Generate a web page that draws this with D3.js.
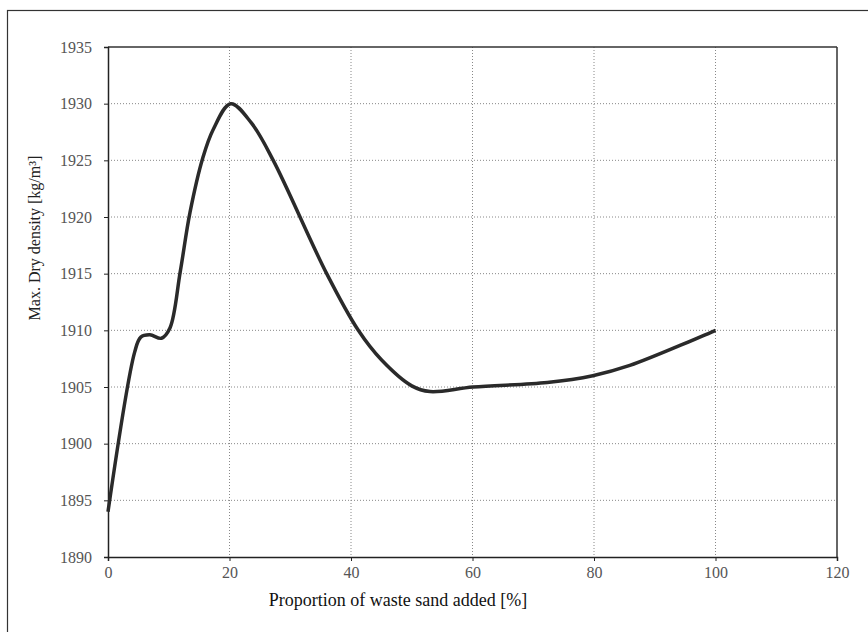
<!DOCTYPE html>
<html>
<head>
<meta charset="utf-8">
<script src="https://cdn.jsdelivr.net/npm/d3@7"></script>
<style>
  body { margin: 0; background: #fff; }
  svg { display: block; }
  text { font-family: "Liberation Serif", "DejaVu Serif", serif; }
</style>
</head>
<body>
<svg id="Canvas" width="868" height="632"></svg>
<script>
// values
var proportion = [0, 4.4, 5.4, 6.9, 8.8, 10.2, 11.9, 13.5, 15.6, 17.3, 20.2, 23.6, 27.2, 36.0, 41.2, 45.0, 50.0, 53.0, 60.1, 72.3, 79.8, 85.9, 100];
var density = [1894, 1908.1, 1909.4, 1909.6, 1909.3, 1910.2, 1915.2, 1920.4, 1925.2, 1927.7, 1930, 1928.3, 1925, 1915, 1910, 1907.4, 1905.1, 1904.6, 1905.0, 1905.4, 1906.0, 1906.9, 1910];
var xTicks = [0, 20, 40, 60, 80, 100, 120];
var yTicks = [1890, 1895, 1900, 1905, 1910, 1915, 1920, 1925, 1930, 1935];

var svg = d3.select("#Canvas");

var plotLeft = 108, plotRight = 837, plotTop = 47, plotBottom = 557;

var x = d3.scaleLinear().domain([0, 120]).range([plotLeft, plotRight]);
var y = d3.scaleLinear().domain([1890, 1935]).range([plotBottom, plotTop]);

// outer frame (runs off the page on the right and bottom)
svg.append("rect")
  .attr("x", 7.5).attr("y", 10.5)
  .attr("width", 880).attr("height", 650)
  .attr("fill", "none")
  .attr("stroke", "#333")
  .attr("stroke-width", 1.2);

// gridlines
svg.append("g").selectAll("line")
  .data(yTicks.slice(1, -1))
  .join("line")
  .attr("x1", plotLeft).attr("x2", plotRight)
  .attr("y1", d => y(d)).attr("y2", d => y(d))
  .attr("stroke", "#888")
  .attr("stroke-width", 1)
  .attr("stroke-dasharray", "1,2");

svg.append("g").selectAll("line")
  .data(xTicks.slice(1, -1))
  .join("line")
  .attr("x1", d => x(d)).attr("x2", d => x(d))
  .attr("y1", plotTop).attr("y2", plotBottom)
  .attr("stroke", "#888")
  .attr("stroke-width", 1)
  .attr("stroke-dasharray", "1,2");

// top and right border of plot area
svg.append("line")
  .attr("x1", plotLeft).attr("x2", plotRight).attr("y1", plotTop).attr("y2", plotTop)
  .attr("stroke", "#333").attr("stroke-width", 1.5);
svg.append("line")
  .attr("x1", plotRight).attr("x2", plotRight).attr("y1", plotTop).attr("y2", plotBottom)
  .attr("stroke", "#333").attr("stroke-width", 1.5);

// axes
var xAxis = svg.append("g")
  .attr("transform", "translate(0," + plotBottom + ")")
  .call(d3.axisBottom(x).tickValues(xTicks).tickSize(4).tickPadding(6));
var yAxis = svg.append("g")
  .attr("transform", "translate(" + plotLeft + ",0)")
  .call(d3.axisLeft(y).tickValues(yTicks).tickSize(4).tickPadding(12).tickFormat(d3.format("d")));

[xAxis, yAxis].forEach(function (g) {
  g.select(".domain").attr("stroke", "#222").attr("stroke-width", 1.5);
  g.selectAll(".tick line").attr("stroke", "#222");
  g.selectAll(".tick text")
    .attr("fill", "#555")
    .style("font-size", "16px")
    .style("font-family", "'Liberation Serif', serif");
});

// curve
var line = d3.line()
  .x((d, i) => x(proportion[i]))
  .y(d => y(d))
  .curve(d3.curveCatmullRom.alpha(0.5));

svg.append("path")
  .datum(density)
  .attr("d", line)
  .attr("fill", "none")
  .attr("stroke", "#2a2a2a")
  .attr("stroke-width", 3.5)
  .attr("stroke-linejoin", "round");

// axis titles
svg.append("text")
  .attr("x", 398).attr("y", 606)
  .attr("text-anchor", "middle")
  .attr("fill", "#111")
  .style("font-size", "18px")
  .text("Proportion of waste sand added [%]");

svg.append("text")
  .attr("transform", "translate(40,238) rotate(-90)")
  .attr("text-anchor", "middle")
  .attr("fill", "#222")
  .style("font-size", "16px")
  .text("Max. Dry density [kg/m³]");
</script>
</body>
</html>
